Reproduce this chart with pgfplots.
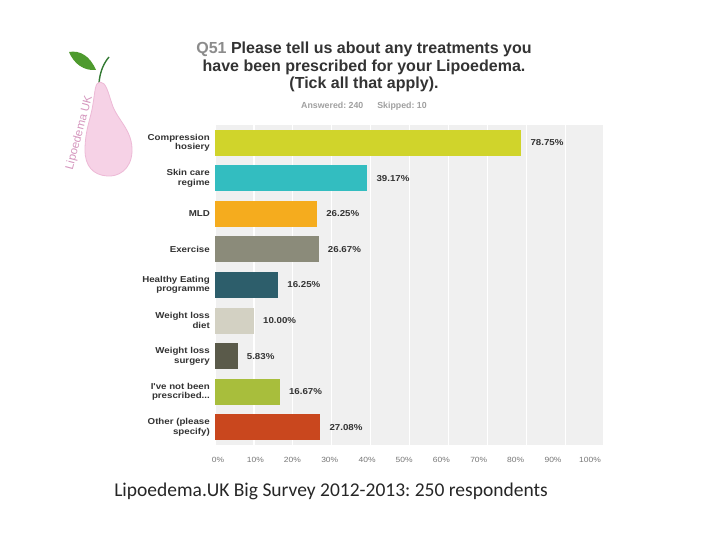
\documentclass[border=0pt]{standalone}
\usepackage{pgfplots}
\pgfplotsset{compat=1.18}
\usepackage{fontspec}
\setmainfont{Liberation Sans}
\newfontfamily\carlito{Carlito}
\newfontfamily\widesans[FakeStretch=1.13]{Liberation Sans}
\frenchspacing
\definecolor{bggray}{HTML}{F0F0F0}
\definecolor{titlecol}{HTML}{333333}
\definecolor{qgray}{HTML}{8C8C8C}
\definecolor{ansgray}{HTML}{A0A0A0}
\definecolor{tickgray}{HTML}{777777}
\definecolor{cA}{HTML}{D0D42B}
\definecolor{cB}{HTML}{33BDC0}
\definecolor{cC}{HTML}{F5AC1E}
\definecolor{cD}{HTML}{8B8B7A}
\definecolor{cE}{HTML}{2D5E6B}
\definecolor{cF}{HTML}{D3D1C3}
\definecolor{cG}{HTML}{5A5A4A}
\definecolor{cH}{HTML}{A8BE3C}
\definecolor{cI}{HTML}{C9471E}
\definecolor{pearpink}{HTML}{F6D2E6}
\definecolor{pearedge}{HTML}{EDB9D6}
\definecolor{logopink}{HTML}{D596BE}
\definecolor{leafgreen}{HTML}{4E9A2E}
\begin{document}
\begin{tikzpicture}
\path[use as bounding box, fill=white] (0pt,0pt) rectangle (720pt,540pt);
\begin{scope}[x=1pt,y=-1pt,yshift=540pt]
% logo
\fill[leafgreen] (96,70) .. controls (90,56) and (80,50) .. (69,52) .. controls (74,64) and (84,71) .. (96,70);
\draw[green!35!black!80, line width=1.4pt] (99,83) .. controls (100,71) and (104,63) .. (109,57);
\draw[pearedge, fill=pearpink, line width=0.8pt] (100,82) .. controls (106,82) and (108,92) .. (112,104) .. controls (117,120) and (133,130) .. (132,152) .. controls (131,170) and (118,177) .. (107,176) .. controls (93,175) and (85,166) .. (85,150) .. controls (85,130) and (91,118) .. (93,104) .. controls (95,92) and (95,82) .. (100,82);
\node[rotate=75, text=logopink, font=\fontsize{11.5}{11.5}\selectfont] at (79.5,133) {Lipoedema UK};
% title
\node[text=titlecol, font=\bfseries\fontsize{16}{17}\selectfont] at (364,49) {\textcolor{qgray}{Q51} Please tell us about any treatments you};
\node[text=titlecol, font=\bfseries\fontsize{16}{17}\selectfont] at (364,67) {have been prescribed for your Lipoedema.};
\node[text=titlecol, font=\bfseries\fontsize{16}{17}\selectfont] at (364,84) {(Tick all that apply).};
\node[text=ansgray, font=\bfseries\fontsize{8.8}{9}\selectfont] at (364,106) {Answered: 240\hspace{14pt}Skipped: 10};
% caption
\node[text=black!85, font=\carlito\fontsize{19.5}{20}\selectfont] at (331,491) {Lipoedema.UK Big Survey 2012-2013: 250 respondents};
\end{scope}
\begin{axis}[
  at={(215pt,95pt)}, anchor=south west, scale only axis,
  width=389pt, height=320pt,
  xmin=0, xmax=100, ymin=-0.5, ymax=8.5, y dir=reverse,
  /pgf/number format/assume math mode=true,
  axis background/.style={fill=bggray},
  axis line style={draw=none},
  xmajorgrids, major grid style={white, line width=1.2pt},
  xtick={0,10,...,100}, xticklabels={}, major tick length=0pt,
  extra x ticks={0.8,10.4,19.9,29.5,39.1,48.6,58.2,67.8,77.3,86.9,96.4},
  extra x tick labels={0\%,10\%,20\%,30\%,40\%,50\%,60\%,70\%,80\%,90\%,100\%},
  extra x tick style={grid=none, major tick length=0pt},
  xticklabel style={font=\widesans\fontsize{7.5}{8}\selectfont, text=tickgray, inner sep=0pt, yshift=-12pt},
  ytick={0,1,2,3,4,5,6,7,8},
  yticklabels={{Compression\\hosiery},{Skin care\\regime},{MLD},{Exercise},{Healthy Eating\\programme},{Weight loss\\diet},{Weight loss\\surgery},{I've not been\\prescribed.{}.{}.},{Other (please\\specify)}},
  yticklabel style={align=right, font=\widesans\bfseries\fontsize{8.6}{9.5}\selectfont, text=titlecol, inner sep=0pt, xshift=-5pt},
  every axis plot/.append style={xbar, bar width=26pt, bar shift=0pt, draw=none},
  point meta=x,
  nodes near coords={\pgfmathprintnumber[fixed,fixed zerofill,precision=2]{\pgfplotspointmeta}\%},
  nodes near coords style={font=\widesans\bfseries\fontsize{8.6}{9}\selectfont, text=titlecol, anchor=west, inner sep=0pt, xshift=9pt},
]
\addplot[fill=cA] coordinates {(78.75,0)};
\addplot[fill=cB] coordinates {(39.17,1)};
\addplot[fill=cC] coordinates {(26.25,2)};
\addplot[fill=cD] coordinates {(26.67,3)};
\addplot[fill=cE] coordinates {(16.25,4)};
\addplot[fill=cF] coordinates {(10.00,5)};
\addplot[fill=cG] coordinates {(5.83,6)};
\addplot[fill=cH] coordinates {(16.67,7)};
\addplot[fill=cI] coordinates {(27.08,8)};
\end{axis}
\end{tikzpicture}
\end{document}
